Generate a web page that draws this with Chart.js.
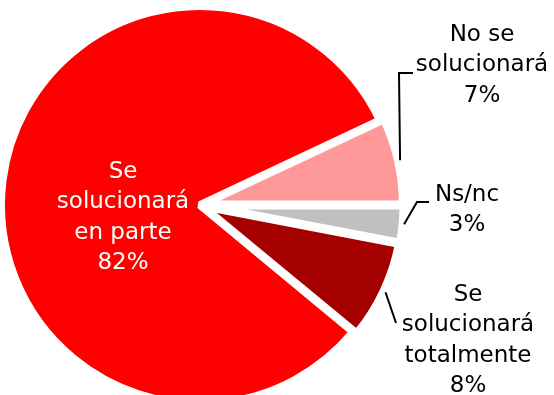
<!DOCTYPE html>
<html>
<head>
<meta charset="utf-8">
<script src="https://cdn.jsdelivr.net/npm/chart.js@4.4.1/dist/chart.umd.min.js"></script>
<style>
  html, body { margin: 0; padding: 0; overflow: hidden; background: #fff; }
  #wrap { position: relative; width: 554px; height: 395px; overflow: hidden; }
  #pie { position: absolute; left: -10px; top: -10px; }
</style>
</head>
<body>
<div id="wrap">
  <canvas id="pie" width="570" height="440"></canvas>
</div>
<script>
// respuestas (orden de dibujo en sentido horario)
const categories = ["No se solucionará", "Ns/nc", "Se solucionará totalmente", "Se solucionará en parte"];
const labelLines = [["No se", "solucionará"], ["Ns/nc"], ["Se", "solucionará", "totalmente"], ["Se", "solucionará", "en parte"]];
const values = [7, 3, 8, 82];
const colors = ["#FF9999", "#C0C0C0", "#A50000", "#FF0000"];
const offsets = [10, 10, 10, 0];

// donde va cada texto, relativo al centro de la tarta
const labelPos = [
    { x: 282, y: -170, color: "#000", leader: [[199, -132], [213, -132]] },
    { x: 267, y: -10, color: "#000", leader: [[217, -3], [229, -3]] },
    { x: 268, y: 90, color: "#000", leader: [[196, 118]] },
    { x: -77, y: -33, color: "#fff", leader: null }
];
const lineGap = 30.5;

const pieLabels = {
    id: "pieLabels",
    afterDatasetsDraw(chart) {
        let ctx = chart.ctx;
        let arcs = chart.getDatasetMeta(0).data;
        let cx = arcs[3].x, cy = arcs[3].y;
        ctx.save();
        ctx.font = "23px 'DejaVu Sans', sans-serif";
        ctx.textAlign = "center";
        ctx.textBaseline = "middle";
        arcs.forEach((arc, i) => {
            let pos = labelPos[i];
            if (pos.leader) {
                let mid = (arc.startAngle + arc.endAngle) / 2;
                let r = arc.outerRadius + 6;
                ctx.beginPath();
                ctx.moveTo(arc.x + Math.cos(mid) * r, arc.y + Math.sin(mid) * r);
                pos.leader.forEach(p => ctx.lineTo(cx + p[0], cy + p[1]));
                ctx.strokeStyle = "#000";
                ctx.lineWidth = 2;
                ctx.stroke();
            }
            let lines = labelLines[i].concat([values[i] + "%"]);
            ctx.fillStyle = pos.color;
            lines.forEach((t, k) => {
                ctx.fillText(t, cx + pos.x, cy + pos.y + k * lineGap);
            });
        });
        ctx.restore();
    }
};

new Chart(document.getElementById("pie"), {
    type: "pie",
    data: {
        labels: categories,
        datasets: [{
            data: values,
            backgroundColor: colors,
            borderColor: "#fff",
            borderWidth: 8,
            borderJoinStyle: "bevel",
            offset: offsets
        }]
    },
    options: {
        responsive: false,
        devicePixelRatio: 1,
        animation: false,
        rotation: 64.8,
        layout: { padding: { left: 2, right: 152, top: 7, bottom: 17 } },
        plugins: {
            legend: { display: false },
            tooltip: { enabled: false }
        }
    },
    plugins: [pieLabels]
});
</script>
</body>
</html>
